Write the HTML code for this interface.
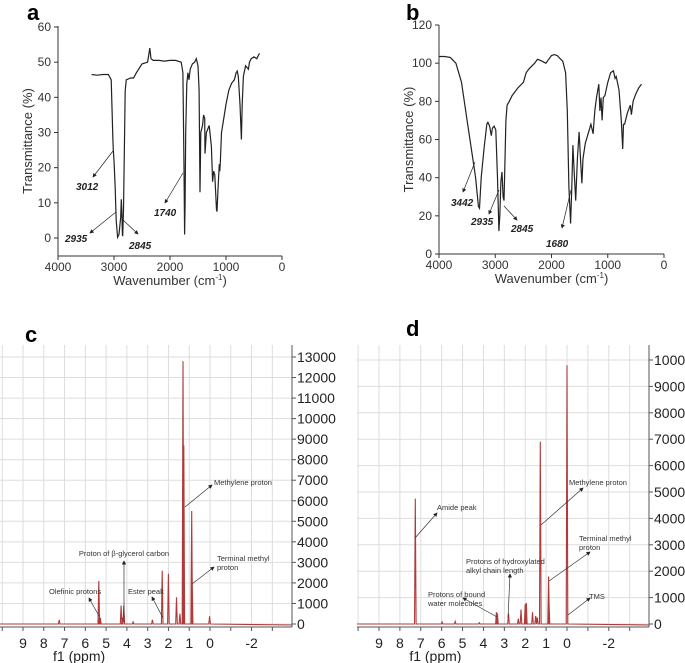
<!DOCTYPE html>
<html><head><meta charset="utf-8"><style>
body{margin:0;background:#fff}
svg{display:block;font-family:"Liberation Sans",sans-serif}
</style></head><body>
<svg id="fig" width="685" height="663" viewBox="0 0 685 663">
<defs><marker id="ah" markerWidth="6" markerHeight="6" refX="5" refY="3" orient="auto"><path d="M0,0L6,3L0,6z" fill="#222"/></marker></defs>
<g id="ga"></g>
<g id="gb"></g>
<g id="gc"></g>
<g id="gd"></g>
</svg>
<script>
// IR panel a data
const irAWave=[3400,3300,3200,3100,3050,3020,3012,3000,2980,2960,2935,2910,2880,2870,2860,2850,2845,2830,2810,2800,2780,2700,2650,2600,2500,2400,2360,2340,2300,2200,2100,2000,1900,1800,1770,1750,1740,1730,1720,1700,1680,1660,1640,1600,1560,1530,1500,1480,1465,1450,1420,1400,1380,1375,1350,1300,1260,1240,1220,1200,1170,1160,1140,1120,1110,1100,1080,1050,1000,950,900,850,820,800,780,750,725,710,690,650,600,580,550,500,450,420,400];
const irATrans=[46.5,46.3,46.5,46.5,45,28,25,22,15,5,0.2,1,6,11,8,1,0.5,8,30,42,45,45.5,45.5,47,49.5,50,54,51,50.5,50.5,50.3,50.5,50.5,50,47,20,1,10,30,44,47,45,48,49.5,50,51,49,42,13,30,32,35,34,24,30,32,26,16,19,18,8,7.5,15,21,19,22,30,33,38,42,44,45,47,47.5,46,38,28,38,46,49,48,50,51,51.5,51,52,52.5];
// IR panel b data
const irBWave=[4000,3900,3800,3700,3600,3500,3400,3350,3300,3280,3250,3200,3150,3130,3100,3070,3050,3020,2990,2960,2935,2920,2900,2880,2860,2845,2830,2810,2790,2750,2700,2600,2500,2450,2400,2300,2250,2200,2100,2050,2000,1950,1900,1800,1750,1720,1690,1660,1640,1620,1600,1570,1540,1510,1480,1460,1440,1400,1350,1300,1260,1230,1200,1160,1140,1120,1100,1080,1050,1000,950,900,870,850,800,760,735,720,700,650,600,580,550,500,450,400];
const irBTrans=[103.5,103.5,103,100,90,70,50,40,25,24,40,55,68,69,67,62,66,67,65,40,12,20,38,43,30,28,45,70,78,80,83,87,90,95,97,100,102,101.5,100,102,104,104.5,104,101,95,75,35,16,35,57,45,28,50,64,47,37,50,58,63,68,63,75,82,89,75,82,70,82,83,90,95,96,92,93,86,70,55,68,68,74,78,73,80,84,87,89];
const irATicksY=[0,10,20,30,40,50,60];
const irBTicksY=[0,20,40,60,80,100,120];
const irTicksX=[4000,3000,2000,1000,0];
// NMR c data
const nmrCPpm=[7.26,5.35,5.32,5.28,4.28,4.22,4.15,3.7,2.77,2.30,2.0,1.61,1.45,1.30,1.26,0.88,0.86,0.02];
const nmrCInt=[200,2100,350,300,900,300,900,100,200,2600,2450,1300,500,12800,8700,5500,2500,380];
// NMR d data
const nmrDPpm=[7.26,5.98,5.35,4.2,3.38,3.33,2.80,2.33,2.2,2.0,1.95,1.65,1.5,1.42,1.28,0.88,0.86,0.0];
const nmrDInt=[4750,80,100,50,450,400,400,200,550,750,800,450,300,250,6900,1800,800,9800];
const nmrTicksX=[9,8,7,6,5,4,3,2,1,0,-2];
const nmrCTicksY=[0,1000,2000,3000,4000,5000,6000,7000,8000,9000,10000,11000,12000,13000];
const nmrDTicksY=[0,1000,2000,3000,4000,5000,6000,7000,8000,9000,10000];

const NS="http://www.w3.org/2000/svg";
function mk(p,t,a,txt){const e=document.createElementNS(NS,t);for(const k in a)e.setAttribute(k,a[k]);if(txt!==undefined)e.textContent=txt;p.appendChild(e);return e;}
function lin(d0,d1,r0,r1){return v=>r0+(v-d0)*(r1-r0)/(d1-d0);}

function irPanel(g,letter,lx,ly,wave,trans,ticksY,xs,ys,x0,x1,y0,y1,ann){
  let t=mk(g,'text',{x:lx,y:ly,'font-size':22,'font-weight':'bold'},letter);
  
  
  let ax=mk(g,'path',{d:`M${x0},${y1}V${y0}H${x1}`,stroke:'#333',fill:'none','stroke-width':1});
  
  
  ticksY.forEach(v=>{mk(g,'line',{x1:x0-4,x2:x0,y1:ys(v),y2:ys(v),stroke:'#333'});
    let l=mk(g,'text',{x:x0-7,y:ys(v)+4,'font-size':12,'text-anchor':'end',fill:'#333'},v);
    
    });
  irTicksX.forEach(v=>{mk(g,'line',{x1:xs(v),x2:xs(v),y1:y0,y2:y0+4,stroke:'#333'});
    let l=mk(g,'text',{x:xs(v),y:y0+15,'font-size':12,'text-anchor':'middle',fill:'#333'},v);
    
    });
  let xt=mk(g,'text',{x:(x0+x1)/2,y:y0+29,'font-size':13,'text-anchor':'middle',fill:'#333'});
  xt.innerHTML='Wavenumber (cm<tspan dy="-5" font-size="8">-1</tspan><tspan dy="5">)</tspan>';
  
  
  let cy=(y0+y1)/2;
  let yt=mk(g,'text',{x:x0-26,y:cy,'font-size':13,'text-anchor':'middle',fill:'#333',transform:`rotate(-90 ${x0-26} ${cy})`},'Transmittance (%)');
  
  
  let d=wave.map((w,i)=>(i?'L':'M')+xs(w).toFixed(1)+','+ys(trans[i]).toFixed(1)).join('');
  let s=mk(g,'path',{d,fill:'none',stroke:'#222','stroke-width':1.2});
  
  
  ann.forEach(a=>{mk(g,'line',{x1:a[2],y1:a[3],x2:a[4],y2:a[5],stroke:'#222','stroke-width':0.7,'marker-end':'url(#ah)'});
    let l=mk(g,'text',{x:a[0],y:a[1],'font-size':10,'font-weight':'bold','font-style':'italic',fill:'#222'},a[6]);
    
    });
}
irPanel(document.getElementById('ga'),'a',27,20,irAWave,irATrans,irATicksY,lin(4000,0,58,282),lin(0,60,238,27),58,282,256,26,
 [[76,190,113,151,93,177,'3012'],[65,242,116,212,90,233,'2935'],[129,249,123,220,138,234,'2845'],[154,216,183,173,165,203,'1740']]);
irPanel(document.getElementById('gb'),'b',406,20,irBWave,irBTrans,irBTicksY,lin(4000,0,439,664),lin(0,120,254,25),439,664,254,25,
 [[451,206,475,162,463,192,'3442'],[471,225,499,190,489,214,'2935'],[511,232,504,206,517,220,'2845'],[546,247,571,190,562,228,'1680']]);

function nmrPanel(g,letter,lx,ly,ppm,inten,ticksY,xs,ys,pl,pr,pt,pb,ann){
  let t=mk(g,'text',{x:lx,y:ly,'font-size':22,'font-weight':'bold'},letter);
  
  
  for(let p=10;p>=-4;p--){let x=xs(p);if(x>pl&&x<pr)mk(g,'line',{x1:x,x2:x,y1:pt,y2:pb,stroke:'#ddd','stroke-width':1});
    if(x>pl&&x<pr)mk(g,'line',{x1:x,x2:x,y1:pb+3,y2:pb+7,stroke:'#555'});}
  ticksY.forEach(v=>{mk(g,'line',{x1:pl,x2:pr,y1:ys(v),y2:ys(v),stroke:'#ddd'});
    mk(g,'line',{x1:pr,x2:pr+4,y1:ys(v),y2:ys(v),stroke:'#555'});
    let l=mk(g,'text',{x:pr+5,y:ys(v)+5,'font-size':14,fill:'#222'},v);
    
    });
  mk(g,'line',{x1:pr,x2:pr,y1:pt,y2:pb+3,stroke:'#555'});
  mk(g,'line',{x1:pl,x2:pr,y1:pb+3,y2:pb+3,stroke:'#555'});
  nmrTicksX.forEach(v=>{let l=mk(g,'text',{x:xs(v),y:pb+24,'font-size':14,'text-anchor':'middle',fill:'#222'},v);
    
    });
  let xt=mk(g,'text',{x:xs(6.3),y:pb+37,'font-size':14,'text-anchor':'middle',fill:'#222'},'f1 (ppm)');
  
  
  let base=ys(0);
  let d=`M${pl},${base}`;
  const order=ppm.map((p,i)=>i).sort((a,b)=>ppm[b]-ppm[a]);
  order.forEach(i=>{let x=xs(ppm[i]);d+=`L${(x-0.8).toFixed(1)},${base}L${x.toFixed(1)},${ys(inten[i]).toFixed(1)}L${(x+0.8).toFixed(1)},${base}`;});
  d+=`L${pr},${base+1}`;
  let s=mk(g,'path',{d,fill:'none',stroke:'#b03a3a','stroke-width':1.1});
  
  
  ann.forEach(a=>{mk(g,'line',{x1:a[0],y1:a[1],x2:a[2],y2:a[3],stroke:'#333','stroke-width':0.7,'marker-end':'url(#ah)'});
    a[4].forEach((s,k)=>{let l=mk(g,'text',{x:a[5],y:a[6]+k*9,'font-size':7.5,fill:'#333','text-anchor':a[7]||'start'},s);
      
      });});
}
nmrPanel(document.getElementById('gc'),'c',25,342,nmrCPpm,nmrCInt,nmrCTicksY,lin(9,0,23,210),lin(0,13000,624,357),0,292,345,624,
 [[185,507,212,485,['Methylene proton'],214,485],[192,584,214,567,['Terminal methyl','proton'],217,561],
  [124,622,124,561,['Proton of β-glycerol carbon'],124,556,'middle'],[163,618,152,597,['Ester peak'],128,594],[99,616,89,598,['Olefinic protons'],49,594]]);
nmrPanel(document.getElementById('gd'),'d',406,336,nmrDPpm,nmrDInt,nmrDTicksY,lin(9,0,379,567),lin(0,10000,624,360),357,649,345,624,
 [[541,525,583,488,['Methylene proton'],569,485],[415,538,437,513,['Amide peak'],437,510],[549,581,590,552,['Terminal methyl','proton'],579,541],
  [508,618,510,574,['Protons of hydroxylated','alkyl chain length'],466,564],[497,617,463,598,['Protons of bound','water molecules'],428,597],[568,615,590,598,['TMS'],589,599]]);
</script>
</body></html>
